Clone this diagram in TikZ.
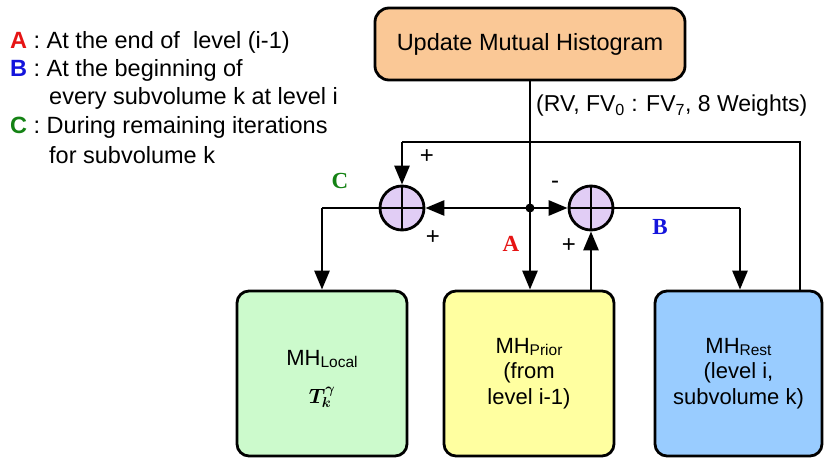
\documentclass[tikz,border=0pt]{standalone}
\usepackage{fontspec}
\setmainfont{Liberation Sans}
\newfontfamily\tagfont{Liberation Serif}
\usepackage{bm}
\usetikzlibrary{arrows.meta,calc}

\definecolor{updfill}{RGB}{250,200,150}
\definecolor{localfill}{RGB}{204,250,204}
\definecolor{priorfill}{RGB}{255,255,160}
\definecolor{restfill}{RGB}{153,204,255}
\definecolor{sumfill}{RGB}{225,205,245}
\definecolor{tagred}{RGB}{230,20,20}
\definecolor{tagblue}{RGB}{20,20,220}
\definecolor{taggreen}{RGB}{20,130,20}

% subscript set lower and larger than \textsubscript
\newcommand{\lowsub}[1]{\raisebox{-2.5pt}{\fontsize{15.5}{15.5}\selectfont #1}}

\begin{document}
\begin{tikzpicture}[x=1pt,y=-1pt,
  wire/.style={draw,line width=2.8pt},
  conn/.style={draw,line width=2.8pt,-{Triangle[length=19pt,width=15pt]}},
  block/.style={draw,line width=2.8pt,rounded corners=12pt,minimum width=170pt,
    minimum height=165pt,align=center,inner sep=0pt,
    font=\fontsize{22}{25.5}\selectfont},
  summer/.style={circle,draw,line width=2.8pt,fill=sumfill,minimum size=44pt,inner sep=0pt},
  sign/.style={font=\fontsize{24}{24}\selectfont,inner sep=0pt},
  tag/.style={font=\tagfont\bfseries\fontsize{23}{23}\selectfont,inner sep=0pt},
  legend/.style={anchor=west,inner sep=0pt,font=\fontsize{23.5}{23.5}\selectfont},
]
\useasboundingbox (0,0) rectangle (825,462);

% legend
\node[legend] (la) at (10,42) {\textcolor{tagred}{\textbf{A}} : At the end of\ \ level (i-1)};
\node[legend] (lb) at (10,70) {\textcolor{tagblue}{\textbf{B}} : At the beginning of};
\node[legend] (lb2) at (49,98) {every subvolume k at level i};
\node[legend] (lc) at (10,127) {\textcolor{taggreen}{\textbf{C}} : During remaining iterations};
\node[legend] (lc2) at (49,155) {for subvolume k};

% blocks
\node[draw,line width=2.8pt,rounded corners=14pt,fill=updfill,minimum width=310pt,
  minimum height=72pt,inner sep=0pt,font=\fontsize{23.5}{23.5}\selectfont]
  (upd) at (530,44) {Update Mutual Histogram};
\node[block,fill=localfill] (local) at (322,373.5) {};
\node[align=center,inner sep=0pt,font=\fontsize{22}{25}\selectfont] (localtxt) at (322,379)
  {MH\lowsub{Local}\\[13pt] {\fontsize{20}{20}\selectfont$\bm{T_k^{\gamma}}$}};
\node[block,fill=priorfill] (prior) at (529,373.5) {MH\lowsub{Prior}\\(from\\level i-1)};
\node[block,fill=restfill,minimum width=167pt] (rest) at (738.5,373.5)
  {MH\lowsub{Rest}\\(level i,\\subvolume k)};

% summing junctions
\node[summer] (sc) at (402,208) {};
\node[summer] (sb) at (591,208) {};
\foreach \s in {sc,sb}
  \draw[line width=2.8pt] (\s.north) -- (\s.south) (\s.west) -- (\s.east);

% helper points
\coordinate (jn) at (530,208);
\coordinate (fbr) at (800,142);
\coordinate (fbl) at (402,142);
\coordinate (cl) at (322,208);
\coordinate (br) at (740,208);

% data path from the update block
\path[conn] (upd.south -| jn) -- (prior.north -| jn);
\fill (jn) circle (4.5pt);
\path[conn] (jn) -- (sc.east);
\path[conn] (jn) -- (sb.west);

% feedback from the rest histogram
\path[wire] (rest.north -| fbr) -- (fbr) -- (fbl);
\path[conn] (fbl) -- (sc.north);

% outputs of the summers
\path[wire] (sc.west) -- (cl);
\path[conn] (cl) -- (local.north -| cl);
\path[wire] (sb.east) -- (br);
\path[conn] (br) -- (rest.north -| br);
\path[conn] (prior.north -| sb) -- (sb.south);

% signs and path tags
\node[sign] (p1) at (427,157) {+};
\node[sign] (p2) at (433,238) {+};
\node[sign] (m1) at (555,185) {-};
\node[sign] (p3) at (569,246) {+};
\node[tag,text=taggreen] (tc) at (340,181) {C};
\node[tag,text=tagred] (ta) at (511,244) {A};
\node[tag,text=tagblue] (tb) at (660,227) {B};

% data label
\node[anchor=west,inner sep=0pt,font=\fontsize{23}{23}\selectfont] (data) at (536,106)
  {(RV, FV\textsubscript{0} : FV\textsubscript{7}, 8 Weights)};
\end{tikzpicture}
\end{document}
